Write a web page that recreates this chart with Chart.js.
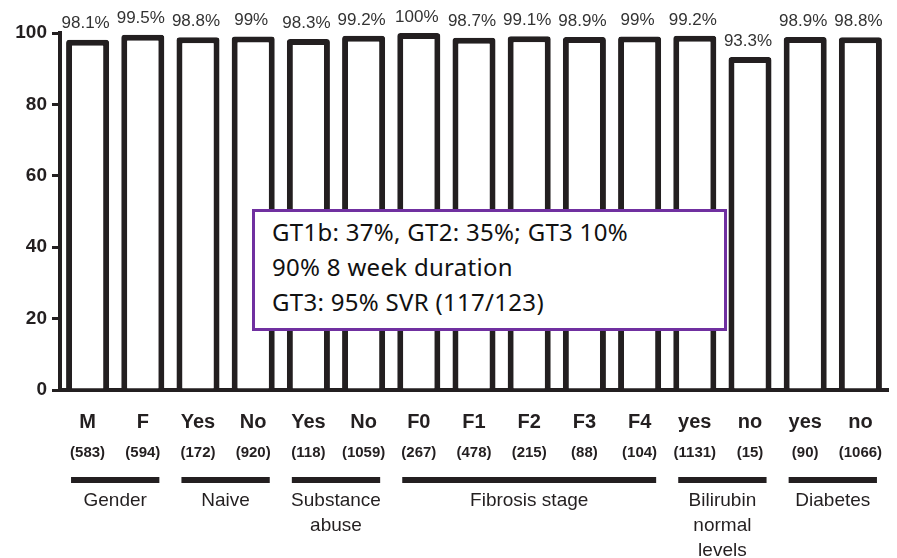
<!DOCTYPE html>
<html>
<head>
<meta charset="utf-8">
<script src="https://cdn.jsdelivr.net/npm/chart.js@4"></script>
<style>
  html, body { margin: 0; padding: 0; background: #fff; }
  #wrap { position: relative; width: 897px; height: 558px; }
  #note {
    position: absolute; left: 252px; top: 209px; width: 475px; height: 122px;
    box-sizing: border-box; border: 3px solid #7030A0; background: #fff;
    padding: 2px 0 0 17px; font-family: 'Noto Sans', sans-serif; font-size: 24px;
    letter-spacing: 0.3px; line-height: 35px; color: #111; white-space: nowrap;
  }
</style>
</head>
<body>
<div id="wrap">
  <canvas id="svrChart" width="897" height="558"></canvas>
  <div id="note"></div>
</div>
<script>
// SVR by subgroup
const categories = ['M', 'F', 'Yes', 'No', 'Yes', 'No', 'F0', 'F1', 'F2', 'F3', 'F4', 'yes', 'no', 'yes', 'no'];
const counts = [583, 594, 172, 920, 118, 1059, 267, 478, 215, 88, 104, 1131, 15, 90, 1066];
const svrRates = [98.1, 99.5, 98.8, 99, 98.3, 99.2, 100, 98.7, 99.1, 98.9, 99, 99.2, 93.3, 98.9, 98.8];
const yTicks = [0, 20, 40, 60, 80, 100];

const groupNames = [['Gender'], ['Naive'], ['Substance', 'abuse'], ['Fibrosis stage'], ['Bilirubin', 'normal', 'levels'], ['Diabetes']];
const groupFirst = [0, 2, 4, 6, 11, 13];
const groupLast = [1, 3, 5, 10, 12, 14];

const noteLines = ['GT1b: 37%, GT2: 35%; GT3 10%', '90% 8 week duration', 'GT3: 95% SVR (117/123)'];

const INK = '#231F20';
const SANS = "'Liberation Sans', Arial, sans-serif";

document.getElementById('note').innerHTML = noteLines.map(t => `<div>${t}</div>`).join('');

const annotations = {
  id: 'annotations',
  afterDatasetsDraw(chart) {
    const { ctx } = chart;
    const meta = chart.getDatasetMeta(0);
    ctx.save();
    ctx.font = `17px ${SANS}`;
    ctx.fillStyle = '#333';
    ctx.textAlign = 'center';
    ctx.textBaseline = 'middle';
    meta.data.forEach((bar, i) => {
      ctx.fillText(svrRates[i] + '%', bar.x - 2, bar.y - 16);
    });
    ctx.restore();
  },
  afterDraw(chart) {
    const { ctx } = chart;
    const x = chart.scales.x;
    const step = x.getPixelForValue(1) - x.getPixelForValue(0);
    ctx.save();
    ctx.fillStyle = INK;
    ctx.textAlign = 'center';
    ctx.textBaseline = 'middle';

    // sample sizes
    ctx.font = `bold 15px ${SANS}`;
    counts.forEach((n, i) => ctx.fillText(`(${n})`, x.getPixelForValue(i), 453));

    // group bars + names
    ctx.strokeStyle = INK;
    ctx.lineWidth = 6;
    ctx.font = `19px ${SANS}`;
    groupNames.forEach((lines, g) => {
      const x0 = x.getPixelForValue(groupFirst[g]) - step * 0.3;
      const x1 = x.getPixelForValue(groupLast[g]) + step * 0.3;
      ctx.beginPath();
      ctx.moveTo(x0, 480);
      ctx.lineTo(x1, 480);
      ctx.stroke();
      lines.forEach((t, k) => ctx.fillText(t, (x0 + x1) / 2, 501 + k * 25));
    });
    ctx.restore();
  },
};

new Chart(document.getElementById('svrChart'), {
  type: 'bar',
  data: {
    labels: categories,
    datasets: [{
      data: svrRates,
      backgroundColor: '#fff',
      borderColor: INK,
      borderWidth: 6,
      borderRadius: 3,
      borderSkipped: 'start',
      categoryPercentage: 1,
      barPercentage: 0.78,
    }],
  },
  options: {
    responsive: false,
    animation: false,
    layout: { padding: { top: 33, right: 9, left: 0, bottom: 0 } },
    plugins: { legend: { display: false }, tooltip: { enabled: false } },
    scales: {
      x: {
        afterFit: s => { s.height = 168; },
        grid: { display: false, drawTicks: false },
        border: { display: true, color: INK, width: 4 },
        ticks: { color: INK, padding: 20, font: { family: SANS, size: 20, weight: 'bold' } },
      },
      y: {
        min: 0,
        max: 100,
        afterFit: s => { s.width = 60; },
        afterBuildTicks: s => { s.ticks = yTicks.map(v => ({ value: v })); },
        grid: { drawOnChartArea: false, drawTicks: true, tickLength: 8, color: INK, lineWidth: 3 },
        border: { display: true, color: INK, width: 4 },
        ticks: { color: INK, padding: 5, font: { family: SANS, size: 19, weight: 'bold' } },
      },
    },
  },
  plugins: [annotations],
});
</script>
</body>
</html>
